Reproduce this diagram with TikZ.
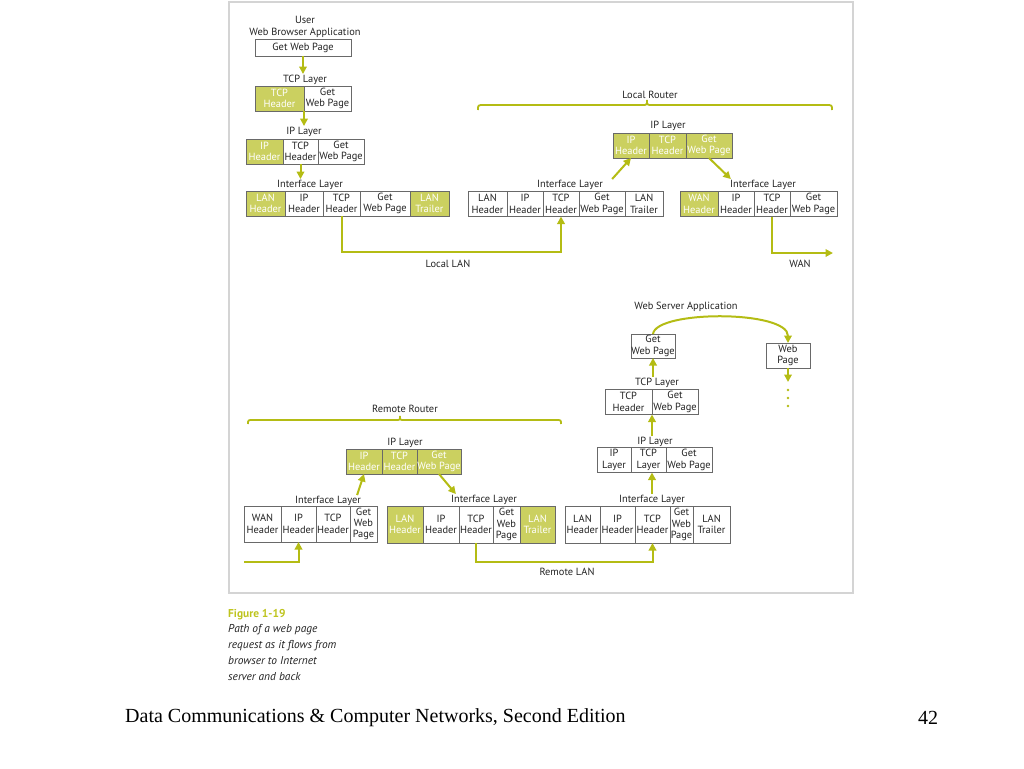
\documentclass[tikz,border=0pt]{standalone}
\usepackage{fontspec}
\setsansfont{PT Sans}
\newfontfamily\serifft{Liberation Serif}
\usetikzlibrary{positioning,arrows.meta}
\definecolor{hilite}{RGB}{203,208,96}
\definecolor{flowc}{RGB}{180,188,20}
\definecolor{cellline}{RGB}{105,105,105}
\definecolor{framec}{RGB}{212,212,212}
\definecolor{figc}{RGB}{190,196,30}
\definecolor{txtc}{RGB}{35,35,35}
\newcommand\cellfont{\fontsize{10.4}{11.3}\selectfont}
\newcommand\lblfont{\fontsize{10.4}{11.5}\selectfont}
\newcommand\capfont{\fontsize{11.4}{16}\selectfont}
\newcommand\footfont{\serifft\fontsize{20}{23}\selectfont}
\tikzset{every picture/.style={/utils/exec={\sffamily}}}
\tikzset{
	cell/.style={draw=cellline, line width=0.7pt, fill=white, text=txtc, inner sep=0pt, outer sep=0pt, align=center, minimum height=25, font=\cellfont},
	gcell/.style={cell, fill=hilite, text=white},
	lbl/.style={font=\lblfont, text=txtc, inner sep=1pt},
	flow/.style={draw=flowc, line width=2pt, -{Triangle[length=7.5pt,width=7.5pt]}},
	rtrbrace/.style={draw=flowc, line width=1.8pt}
}
\begin{document}
\begin{tikzpicture}[x=1pt, y=-1pt]
		\useasboundingbox (0,0) rectangle (1024,768);
		\draw[framec, line width=2pt] (229,2) rectangle (853,593);

		% user side
		\node[lbl, align=center] (usrlbl) at (305,27) {User\\Web Browser Application};
		\node[cell, minimum width=96, minimum height=17] (app) at (303,47.5) {Get Web Page};

		\node[lbl] (ctlbl) at (305,80) {TCP Layer};
		\node[gcell, minimum width=49, anchor=west] (ct1) at (255,98.5) {TCP\\Header};
		\node[cell, minimum width=47, right=0pt of ct1] (ct2) {Get\\Web Page};

		\node[lbl] (cilbl) at (304,132) {IP Layer};
		\node[gcell, minimum width=37, anchor=west] (ci1) at (246,151.5) {IP\\Header};
		\node[cell, minimum width=35, right=0pt of ci1] (ci2) {TCP\\Header};
		\node[cell, minimum width=46, right=0pt of ci2] (ci3) {Get\\Web Page};

		\node[lbl] (cflbl) at (310,185) {Interface Layer};
		\node[gcell, minimum width=39, anchor=west] (cf1) at (246,203.5) {LAN\\Header};
		\node[cell, minimum width=38, right=0pt of cf1] (cf2) {IP\\Header};
		\node[cell, minimum width=37, right=0pt of cf2] (cf3) {TCP\\Header};
		\node[cell, minimum width=50, right=0pt of cf3] (cf4) {Get\\Web Page};
		\node[gcell, minimum width=39, right=0pt of cf4] (cf5) {LAN\\Trailer};

		% local router
		\node[lbl] (lrlbl) at (650,95) {Local Router};
		\draw[rtrbrace] (478,110) .. controls (478,105) .. (484,105) -- (642,105)
			.. controls (647,105) .. (647,100) .. controls (647,105) .. (652,105)
			-- (826,105) .. controls (832,105) .. (832,110);

		\node[lbl] (lplbl) at (668,126) {IP Layer};
		\node[gcell, minimum width=36, anchor=west] (lp1) at (613,145.5) {IP\\Header};
		\node[gcell, minimum width=37, right=0pt of lp1] (lp2) {TCP\\Header};
		\node[gcell, minimum width=46, right=0pt of lp2] (lp3) {Get\\Web Page};

		\node[lbl] (lalbl) at (570,185) {Interface Layer};
		\node[cell, minimum width=39, anchor=west] (la1) at (468,204) {LAN\\Header};
		\node[cell, minimum width=36, right=0pt of la1] (la2) {IP\\Header};
		\node[cell, minimum width=36, right=0pt of la2] (la3) {TCP\\Header};
		\node[cell, minimum width=46, right=0pt of la3] (la4) {Get\\Web Page};
		\node[cell, minimum width=38, right=0pt of la4] (la5) {LAN\\Trailer};

		\node[lbl] (lblbl) at (763,185) {Interface Layer};
		\node[gcell, minimum width=38, anchor=west] (lb1) at (680,204) {WAN\\Header};
		\node[cell, minimum width=36, right=0pt of lb1] (lb2) {IP\\Header};
		\node[cell, minimum width=36, right=0pt of lb2] (lb3) {TCP\\Header};
		\node[cell, minimum width=47, right=0pt of lb3] (lb4) {Get\\Web Page};

		\node[lbl] (loclan) at (448,264) {Local LAN};
		\node[lbl] (wanlbl) at (800,264) {WAN};
		\coordinate (wanend) at (833,253);

		\draw[flow] (app.south) -- (app.south |- ctlbl.north);
		\draw[flow] (ct1.south east) -- (ct1.south east |- cilbl.north);
		\draw[flow] (ci2.south) -- (ci2.south |- cflbl.north);
		\draw[flow] (cf3.south) -- ([yshift=-36pt]cf3.south) -| (la3.south);
		\draw[flow] ([xshift=8pt]lalbl.north east) -- (lp1.south);
		\draw[flow] (lp3.south) -- ([xshift=2pt]lblbl.north west);
		\draw[flow] (lb3.south) |- (wanend);

		% web server
		\node[lbl] (srvlbl) at (686,307) {Web Server Application};
		\node[cell, minimum width=44, minimum height=24] (sget) at (653,346) {Get\\Web Page};
		\node[cell, minimum width=44] (spage) at (788,355.5) {Web\\Page};

		\node[lbl] (stlbl) at (657,383) {TCP Layer};
		\node[cell, minimum width=47, anchor=west] (st1) at (605,402) {TCP\\Header};
		\node[cell, minimum width=46, right=0pt of st1] (st2) {Get\\Web Page};

		\node[lbl] (splbl) at (655,442) {IP Layer};
		\node[cell, minimum width=34, anchor=west] (sp1) at (597,460) {IP\\Layer};
		\node[cell, minimum width=35, right=0pt of sp1] (sp2) {TCP\\Layer};
		\node[cell, minimum width=46, right=0pt of sp2] (sp3) {Get\\Web Page};

		\node[lbl] (sflbl) at (652,500) {Interface Layer};
		\node[cell, minimum width=35, minimum height=37, anchor=west] (sf1) at (565,524.5) {LAN\\Header};
		\node[cell, minimum width=35, minimum height=37, right=0pt of sf1] (sf2) {IP\\Header};
		\node[cell, minimum width=35, minimum height=37, right=0pt of sf2] (sf3) {TCP\\Header};
		\node[cell, minimum width=23, minimum height=37, right=0pt of sf3] (sf4) {Get\\Web\\Page};
		\node[cell, minimum width=37, minimum height=37, right=0pt of sf4] (sf5) {LAN\\Trailer};

		\draw[flow] (sget.north) .. controls (656,310) and (788,310) .. (spage.north);
		\draw[flow] (spage.south) -- ([yshift=-14pt]spage.south);
		\foreach \dy in {22,30,38}
			\fill[flowc] ([yshift=-\dy pt]spage.south) circle (1.3pt);
		\draw[flow] (stlbl.north -| sget.south) -- (sget.south);
		\draw[flow] (splbl.north -| st1.south east) -- (st1.south east);
		\draw[flow] (sflbl.north) -- (sflbl.north |- sp2.south);

		% remote router
		\node[lbl] (rrlbl) at (405,409) {Remote Router};
		\draw[rtrbrace] (248,424) .. controls (248,420) .. (253,420) -- (396,420)
			.. controls (400,420) .. (400,416) .. controls (400,420) .. (404,420)
			-- (556,420) .. controls (561,420) .. (561,424);

		\node[lbl] (rplbl) at (405,443) {IP Layer};
		\node[gcell, minimum width=36, anchor=west] (rp1) at (346,461.5) {IP\\Header};
		\node[gcell, minimum width=35, right=0pt of rp1] (rp2) {TCP\\Header};
		\node[gcell, minimum width=44, right=0pt of rp2] (rp3) {Get\\Web Page};

		\node[lbl] (ralbl) at (328,501) {Interface Layer};
		\node[cell, minimum width=37, minimum height=36, anchor=west] (ra1) at (244,524) {WAN\\Header};
		\node[cell, minimum width=35, minimum height=36, right=0pt of ra1] (ra2) {IP\\Header};
		\node[cell, minimum width=34, minimum height=36, right=0pt of ra2] (ra3) {TCP\\Header};
		\node[cell, minimum width=27, minimum height=36, right=0pt of ra3] (ra4) {Get\\Web\\Page};

		\node[lbl] (rblbl) at (484,500) {Interface Layer};
		\node[gcell, minimum width=36, minimum height=37, anchor=west] (rb1) at (387,524.5) {LAN\\Header};
		\node[cell, minimum width=36, minimum height=37, right=0pt of rb1] (rb2) {IP\\Header};
		\node[cell, minimum width=34, minimum height=37, right=0pt of rb2] (rb3) {TCP\\Header};
		\node[cell, minimum width=27, minimum height=37, right=0pt of rb3] (rb4) {Get\\Web\\Page};
		\node[gcell, minimum width=35, minimum height=37, right=0pt of rb4] (rb5) {LAN\\Trailer};

		\node[lbl] (remlan) at (567,572) {Remote LAN};
		\coordinate (wanstart) at (244,562);

		\draw[flow] (wanstart) -| (ra2.south);
		\draw[flow] ([xshift=-5pt]ralbl.north east) -- (rp1.south);
		\draw[flow] (rp3.south) -- ([xshift=6pt]rblbl.north west);
		\draw[flow] (rb3.south) -- ([yshift=-19pt]rb3.south) -| (sf3.south);

		% caption and footer
		\node[anchor=west, inner sep=0pt, font=\capfont\bfseries, text=figc] (figlbl) at (228,615) {Figure 1-19};
		\node[anchor=north west, inner sep=0pt, align=left, font=\capfont\itshape, text=txtc] (caption) at (228,624)
			{Path of a web page\\request as it flows from\\browser to Internet\\server and back};
		\node[anchor=west, inner sep=0pt, font=\footfont] (foot) at (125,718) {Data Communications \& Computer Networks, Second Edition};
		\node[inner sep=0pt, font=\footfont] (pagenum) at (928,718) {42};
	\end{tikzpicture}
\end{document}
